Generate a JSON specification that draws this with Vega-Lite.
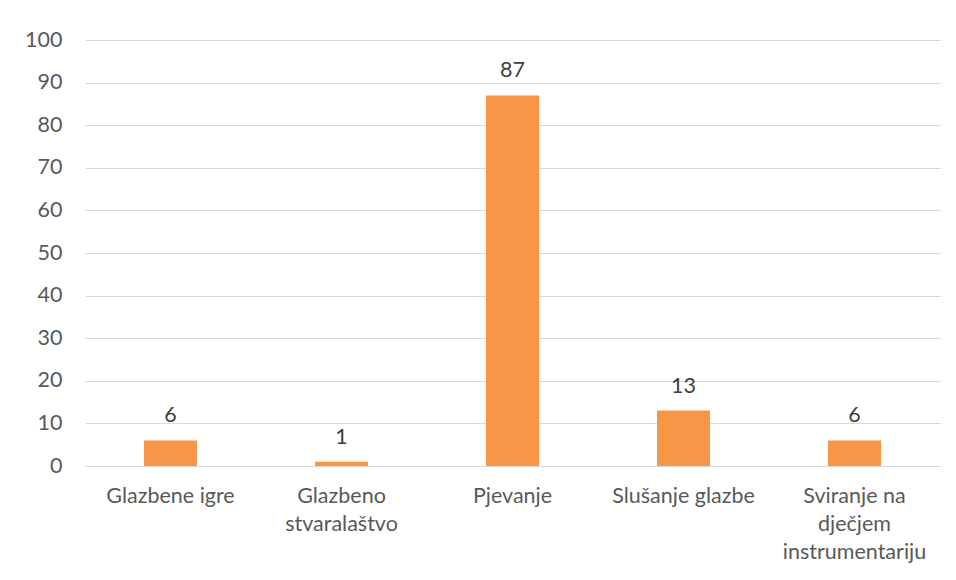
{
  "$schema": "https://vega.github.io/schema/vega-lite/v6.json",
  "autosize": "none",
  "width": 855,
  "height": 426,
  "padding": {"left": 85, "top": 40, "right": 16, "bottom": 114},
  "background": "white",
  "config": {
    "view": {"stroke": null},
    "font": "Lato"
  },
  "data": {
    "values": [
      {"category": "Glazbene igre", "value": 6},
      {"category": "Glazbeno stvaralaštvo", "value": 1},
      {"category": "Pjevanje", "value": 87},
      {"category": "Slušanje glazbe", "value": 13},
      {"category": "Sviranje na dječjem instrumentariju", "value": 6}
    ]
  },
  "encoding": {
    "x": {
      "field": "category",
      "type": "nominal",
      "sort": null,
      "scale": {"paddingInner": 0.69, "paddingOuter": 0.345},
      "axis": {
        "title": null,
        "labelAngle": 0,
        "labelFont": "Lato",
        "labelFontSize": 21.5,
        "labelColor": "#595959",
        "labelPadding": 19,
        "labelBaseline": "top",
        "labelLineHeight": 28,
        "ticks": false,
        "domainColor": "#D9D9D9",
        "domainWidth": 1,
        "labelExpr": "datum.value == 'Glazbeno stvaralaštvo' ? ['Glazbeno', 'stvaralaštvo'] : datum.value == 'Sviranje na dječjem instrumentariju' ? ['Sviranje na', 'dječjem', 'instrumentariju'] : datum.value"
      }
    },
    "y": {
      "field": "value",
      "type": "quantitative",
      "scale": {"domain": [0, 100], "nice": false},
      "axis": {
        "title": null,
        "values": [0, 10, 20, 30, 40, 50, 60, 70, 80, 90, 100],
        "labelFont": "Lato",
        "labelFontSize": 21.5,
        "labelColor": "#595959",
        "labelPadding": 23,
        "ticks": false,
        "domain": false,
        "gridColor": "#D9D9D9",
        "gridWidth": 1
      }
    }
  },
  "layer": [
    {"mark": {"type": "bar", "color": "#F79646"}},
    {
      "mark": {"type": "text", "baseline": "alphabetic", "dy": -18, "fontSize": 21.5, "font": "Lato", "color": "#404040"},
      "encoding": {"text": {"field": "value", "type": "quantitative"}}
    }
  ]
}
